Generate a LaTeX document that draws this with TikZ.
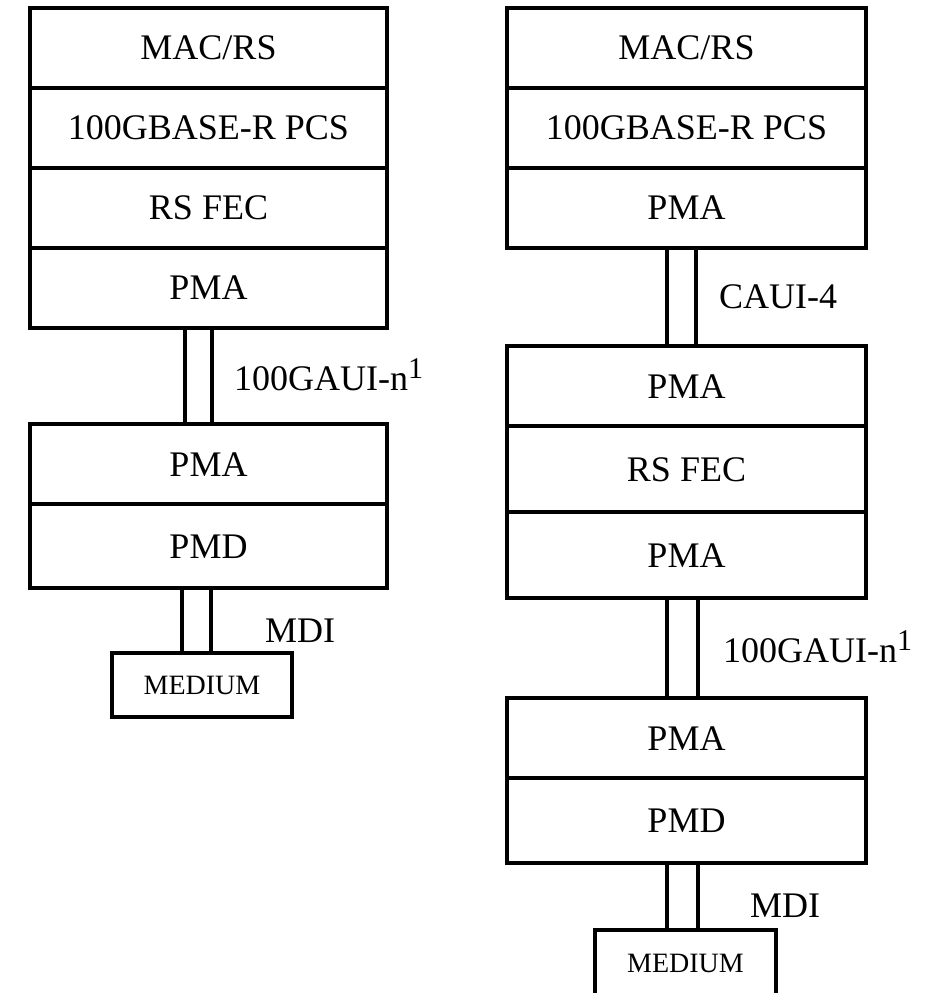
\documentclass[tikz,border=0pt]{standalone}
\usepackage{fontspec}
\setmainfont{Liberation Serif}
\usetikzlibrary{positioning}
\newcommand{\supone}{\raisebox{12pt}{\fontsize{30}{30}\selectfont 1}}
\tikzset{
  layer/.style={draw,line width=4pt,rectangle,inner sep=0pt,outer sep=0pt,minimum height=80pt,
    text height=24pt,text depth=0pt,font=\fontsize{36}{40}\selectfont},
  medbox/.style={draw,line width=4pt,rectangle,inner sep=0pt,outer sep=0pt,minimum width=180pt,
    text height=18.5pt,text depth=0pt,font=\fontsize{28}{32}\selectfont},
  link/.style={line width=4pt},
  tag/.style={anchor=base west,inner sep=0pt,font=\fontsize{36}{40}\selectfont}
}
\begin{document}
\begin{tikzpicture}[x=1pt,y=-1pt]
\useasboundingbox (0,0) rectangle (927,993);
% Left stack
\node[layer,minimum width=357pt](lMac)at(208.5,47.5){MAC/RS};
\node[layer,minimum width=357pt,below=0pt of lMac](lPcs){100GBASE-R PCS};
\node[layer,minimum width=357pt,below=0pt of lPcs](lFec){RS FEC};
\node[layer,minimum width=357pt,below=0pt of lFec](lPma){PMA};
\node[layer,minimum width=357pt](lPmaB)at(208.5,464){PMA};
\node[layer,minimum width=357pt,minimum height=84pt,below=0pt of lPmaB](lPmd){PMD};
\node[medbox,minimum height=64pt](lMed)at(202,685){MEDIUM};
\draw[link]([xshift=-24pt]lPma.south)--([xshift=-24pt]lPmaB.north);
\draw[link]([xshift=3pt]lPma.south)--([xshift=3pt]lPmaB.north);
\draw[link]([xshift=-26.5pt]lPmd.south)--([xshift=-20pt]lMed.north);
\draw[link]([xshift=2.5pt]lPmd.south)--([xshift=9pt]lMed.north);
\node[tag](lGaui)at(234,390){100GAUI-n\supone};
\node[tag](lMdi)at(265,642){MDI};

% Right stack
\node[layer,minimum width=359pt](rMac)at(686.5,47.5){MAC/RS};
\node[layer,minimum width=359pt,below=0pt of rMac](rPcs){100GBASE-R PCS};
\node[layer,minimum width=359pt,below=0pt of rPcs](rPma){PMA};
\node[layer,minimum width=359pt](rPmaB)at(686.5,386){PMA};
\node[layer,minimum width=359pt,minimum height=86pt,below=0pt of rPmaB](rFec){RS FEC};
\node[layer,minimum width=359pt,minimum height=86pt,below=0pt of rFec](rPmaC){PMA};
\node[layer,minimum width=359pt](rPmaD)at(686.5,738){PMA};
\node[layer,minimum width=359pt,minimum height=85pt,below=0pt of rPmaD](rPmd){PMD};
\node[medbox,minimum width=181pt,minimum height=67pt](rMed)at(685.5,963.5){MEDIUM};
\draw[link]([xshift=-19.5pt]rPma.south)--([xshift=-19.5pt]rPmaB.north);
\draw[link]([xshift=9pt]rPma.south)--([xshift=9pt]rPmaB.north);
\draw[link]([xshift=-19.5pt]rPmaC.south)--([xshift=-19.5pt]rPmaD.north);
\draw[link]([xshift=11.5pt]rPmaC.south)--([xshift=11.5pt]rPmaD.north);
\draw[link]([xshift=-19.5pt]rPmd.south)--([xshift=-18.5pt]rMed.north);
\draw[link]([xshift=11.5pt]rPmd.south)--([xshift=12.5pt]rMed.north);
\node[tag](rCaui)at(719,308){CAUI-4};
\node[tag](rGaui)at(723,662){100GAUI-n\supone};
\node[tag](rMdi)at(750,917){MDI};
\end{tikzpicture}
\end{document}
